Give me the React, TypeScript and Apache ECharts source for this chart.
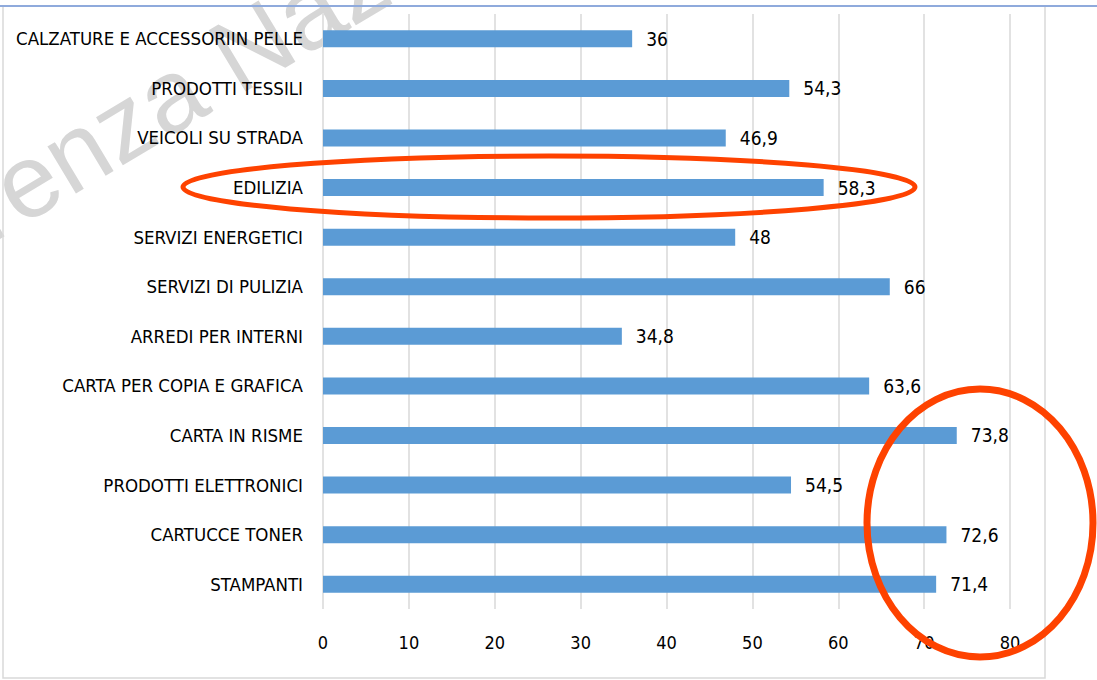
import React, { useEffect, useRef } from "react";
import * as echarts from "echarts";

const categories = [
  "CALZATURE E ACCESSORIIN PELLE",
  "PRODOTTI TESSILI",
  "VEICOLI SU STRADA",
  "EDILIZIA",
  "SERVIZI ENERGETICI",
  "SERVIZI DI PULIZIA",
  "ARREDI PER INTERNI",
  "CARTA PER COPIA E GRAFICA",
  "CARTA IN RISME",
  "PRODOTTI ELETTRONICI",
  "CARTUCCE TONER",
  "STAMPANTI",
];
const values = [36, 54.3, 46.9, 58.3, 48, 66, 34.8, 63.6, 73.8, 54.5, 72.6, 71.4];
const axisMin = 0;
const axisMax = 80;
const axisStep = 10;
const watermark = "renza Naz";

const FONT = "'Liberation Sans Narrow', 'DejaVu Sans Condensed', 'Roboto', sans-serif";

export default function App() {
  const ref = useRef<HTMLDivElement>(null);
  useEffect(() => {
    if (!ref.current) return;
    const chart = echarts.init(ref.current, undefined, { renderer: "svg" });
    chart.setOption({
      animation: false,
      backgroundColor: "#ffffff",
      grid: { left: 323, right: 87, top: 14, bottom: 71, containLabel: false },
      xAxis: {
        type: "value",
        min: axisMin,
        max: axisMax,
        interval: axisStep,
        axisLine: { show: false },
        axisTick: { show: false },
        splitLine: { show: true, lineStyle: { color: "#d9d9d9", width: 1.5 } },
        axisLabel: { color: "#000", fontFamily: FONT, fontSize: 18, margin: 24 },
      },
      yAxis: {
        type: "category",
        data: categories,
        inverse: true,
        axisLine: { show: false },
        axisTick: { show: false },
        axisLabel: { color: "#000", fontFamily: FONT, fontSize: 18.5, margin: 20 },
      },
      series: [
        {
          type: "bar",
          data: values,
          barWidth: 17,
          itemStyle: { color: "#5b9bd5" },
          label: {
            show: true,
            position: "right",
            distance: 14,
            color: "#000",
            fontFamily: FONT,
            fontSize: 19,
            formatter: (p: any) => String(p.value).replace(".", ","),
          },
        },
      ],
      graphic: [
        {
          type: "text",
          x: -28,
          y: 214,
          rotation: (31 * Math.PI) / 180,
          z: 0,
          silent: true,
          style: {
            text: watermark,
            fill: "#d6d6d6",
            font: "104px 'Liberation Sans', Arial, sans-serif",
            textAlign: "left",
            textVerticalAlign: "middle",
          },
        },
        {
          type: "rect",
          z: 1,
          silent: true,
          shape: { x: 3, y: 6, width: 1042, height: 672 },
          style: { fill: "none", stroke: "#d9d9d9", lineWidth: 1.5 },
        },
        {
          type: "line",
          z: 2,
          silent: true,
          shape: { x1: 0, y1: 6, x2: 1097, y2: 6 },
          style: { stroke: "#8faadc", lineWidth: 2 },
        },
        {
          type: "ellipse",
          z: 100,
          silent: true,
          shape: { cx: 549, cy: 187, rx: 366, ry: 31 },
          style: { fill: "none", stroke: "#fe4200", lineWidth: 5 },
        },
        {
          type: "ellipse",
          z: 100,
          silent: true,
          shape: { cx: 980, cy: 523, rx: 113, ry: 134 },
          style: { fill: "none", stroke: "#fe4200", lineWidth: 7 },
        },
      ],
    });
    return () => chart.dispose();
  }, []);
  return (
    <div
      ref={ref}
      style={{ position: "fixed", left: 0, top: 0, width: 1097, height: 680 }}
    />
  );
}
